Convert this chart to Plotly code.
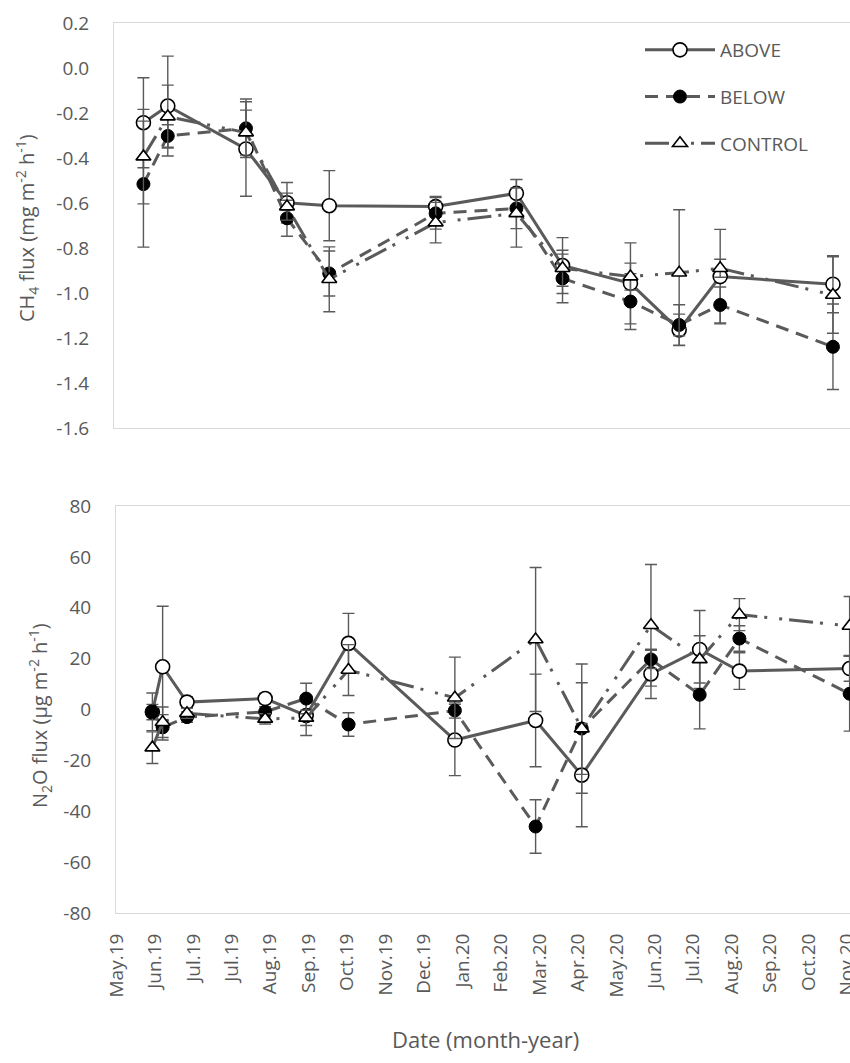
import plotly.graph_objects as go

# ---- CH4 flux campaign (mg m-2 h-1) ----
ch4_dates = ["2019-05-23", "2019-06-11", "2019-08-11", "2019-09-12", "2019-10-15", "2020-01-06",
             "2020-03-09", "2020-04-14", "2020-06-06", "2020-07-14", "2020-08-15", "2020-11-11"]
ch4_above = [-0.243, -0.169, -0.360, -0.599, -0.612, -0.616, -0.557, -0.878, -0.957, -1.164, -0.927, -0.961]
ch4_above_se = [0.20, 0.222, 0.21, 0.09, 0.156, 0.045, 0.062, 0.124, 0.18, 0.07, 0.21, 0.127]
ch4_below = [-0.516, -0.302, -0.268, -0.668, -0.913, -0.646, -0.624, -0.935, -1.038, -1.142, -1.053, -1.239]
ch4_below_se = [0.28, 0.05, 0.13, 0.08, 0.10, 0.07, 0.09, 0.108, 0.124, 0.09, 0.08, 0.19]
ch4_control = [-0.394, -0.216, -0.287, -0.616, -0.939, -0.687, -0.646, -0.890, -0.927, -0.910, -0.890, -1.009]
ch4_control_se = [0.21, 0.14, 0.10, 0.06, 0.144, 0.09, 0.15, 0.08, 0.06, 0.28, 0.04, 0.17]

# ---- N2O flux campaign (ug m-2 h-1) ----
n2o_dates = ["2019-05-30", "2019-06-07", "2019-06-26", "2019-08-26", "2019-09-27", "2019-10-30",
             "2020-01-21", "2020-03-24", "2020-04-29", "2020-06-22", "2020-07-30", "2020-08-30", "2020-11-24"]
n2o_above = [-1.0, 16.8, 2.9, 4.3, -2.4, 26.0, -12.0, -4.3, -25.8, 14.0, 23.6, 15.1, 16.1]
n2o_above_se = [3.0, 23.8, 2.0, 2.0, 7.8, 11.8, 14.0, 18.2, 20.3, 9.7, 15.3, 7.2, 5.0]
n2o_below = [-0.9, -7.0, -3.0, -0.9, 4.3, -5.9, -0.4, -46.0, -7.5, 19.7, 5.8, 27.9, 6.2]
n2o_below_se = [7.4, 5.0, 2.0, 2.0, 6.0, 4.6, 3.0, 10.5, 18.0, 3.6, 13.4, 5.0, 14.7]
n2o_control = [-15.0, -5.0, -1.5, -3.7, -3.3, 15.5, 4.6, 27.5, -7.5, 33.1, 19.7, 37.3, 32.8]
n2o_control_se = [6.2, 6.0, 2.0, 2.0, 3.0, 10.0, 16.0, 28.3, 25.4, 23.9, 9.3, 6.3, 11.6]

# ---- axis labels ----
x_tick_dates = ["2019-05-02", "2019-06-01", "2019-07-01", "2019-07-31", "2019-08-30", "2019-09-29",
                "2019-10-29", "2019-11-28", "2019-12-28", "2020-01-27", "2020-02-26", "2020-03-27",
                "2020-04-26", "2020-05-26", "2020-06-25", "2020-07-25", "2020-08-24", "2020-09-23",
                "2020-10-23", "2020-11-22"]
x_tick_labels = ["May.19", "Jun.19", "Jul.19", "Jul.19", "Aug.19", "Sep.19", "Oct.19", "Nov.19",
                 "Dec.19", "Jan.20", "Feb.20", "Mar.20", "Apr.20", "May.20", "Jun.20", "Jul.20",
                 "Aug.20", "Sep.20", "Oct.20", "Nov.20"]
ch4_ticks = [0.2, 0.0, -0.2, -0.4, -0.6, -0.8, -1.0, -1.2, -1.4, -1.6]
ch4_tick_labels = ["0.2", "0.0", "-0.2", "-0.4", "-0.6", "-0.8", "-1.0", "-1.2", "-1.4", "-1.6"]
n2o_ticks = [80, 60, 40, 20, 0, -20, -40, -60, -80]
n2o_tick_labels = ["80", "60", "40", "20", "0", "-20", "-40", "-60", "-80"]

LINE = "#5a5a5a"
TEXT = "#595959"
FRAME = "#d9d9d9"
FONT = "Open Sans"

styles = {
    "ABOVE": dict(dash="solid", marker=dict(symbol="circle", size=14, color="white",
                                            line=dict(color="black", width=1.6))),
    "BELOW": dict(dash="13px,8px", marker=dict(symbol="circle", size=13, color="black",
                                              line=dict(color="black", width=1))),
    "CONTROL": dict(dash="24px,7px,3px,12px,3px,7px",
                    marker=dict(symbol="triangle-up", size=13, color="white",
                                line=dict(color="black", width=1.6))),
}

fig = go.Figure()


def add_series(name, x, y, se, xaxis, yaxis, show):
    st = styles[name]
    fig.add_trace(go.Scatter(
        x=x, y=y, name=name, mode="lines+markers",
        line=dict(color=LINE, width=3, dash=st["dash"]),
        marker=st["marker"],
        error_y=dict(type="data", array=se, visible=True, color=LINE, thickness=1.4, width=6),
        xaxis=xaxis, yaxis=yaxis, showlegend=show, legendgroup=name,
    ))


add_series("ABOVE", ch4_dates, ch4_above, ch4_above_se, "x", "y", True)
add_series("BELOW", ch4_dates, ch4_below, ch4_below_se, "x", "y", True)
add_series("CONTROL", ch4_dates, ch4_control, ch4_control_se, "x", "y", True)
add_series("ABOVE", n2o_dates, n2o_above, n2o_above_se, "x2", "y2", False)
add_series("BELOW", n2o_dates, n2o_below, n2o_below_se, "x2", "y2", False)
add_series("CONTROL", n2o_dates, n2o_control, n2o_control_se, "x2", "y2", False)

W, H = 850, 1063


def py(px):
    return 1 - px / H


frame = dict(showline=True, mirror=True, linecolor=FRAME, linewidth=1, showgrid=False,
             zeroline=False, automargin=False)
tickfont = dict(family=FONT, size=19, color=TEXT)

fig.update_layout(
    width=W, height=H,
    margin=dict(l=0, r=0, t=0, b=0, autoexpand=False),
    paper_bgcolor="white", plot_bgcolor="white",
    font=dict(family=FONT, color=TEXT),
    xaxis=dict(domain=[114 / W, 1], type="date", range=["2019-04-30 01:00", "2020-11-24 07:00"],
               showticklabels=False, ticks="", anchor="y", **frame),
    yaxis=dict(domain=[py(428), py(23)], range=[-1.6, 0.2], tickvals=ch4_ticks, ticktext=ch4_tick_labels,
               ticks="outside", ticklen=20, tickcolor="rgba(0,0,0,0)", tickfont=tickfont, anchor="x", **frame),
    xaxis2=dict(domain=[116 / W, 1], type="date", range=["2019-05-01 14:40", "2020-11-24 07:00"],
                tickvals=x_tick_dates, ticktext=x_tick_labels, tickangle=-90, ticklabeloverflow="allow",
                ticks="outside", ticklen=12, tickcolor="rgba(0,0,0,0)", tickfont=tickfont, anchor="y2", **frame),
    yaxis2=dict(domain=[py(913), py(506)], range=[-80, 80], tickvals=n2o_ticks, ticktext=n2o_tick_labels,
                ticks="outside", ticklen=20, tickcolor="rgba(0,0,0,0)", tickfont=tickfont, anchor="x2", **frame),
    legend=dict(x=640 / W, y=py(31), xanchor="left", yanchor="top", bgcolor="rgba(0,0,0,0)",
                font=dict(family=FONT, size=19, color=TEXT), itemwidth=70, tracegroupgap=19),
    annotations=[
        dict(text="CH<sub>4</sub> flux (mg m<sup>-2</sup> h<sup>-1</sup>)", x=27 / W, y=py(228),
             xref="paper", yref="paper", xanchor="center", yanchor="middle", textangle=-90,
             showarrow=False, font=dict(family=FONT, size=20, color=TEXT)),
        dict(text="N<sub>2</sub>O flux (µg m<sup>-2</sup> h<sup>-1</sup>)", x=40 / W, y=py(716),
             xref="paper", yref="paper", xanchor="center", yanchor="middle", textangle=-90,
             showarrow=False, font=dict(family=FONT, size=20, color=TEXT)),
        dict(text="Date (month-year)", x=485 / W, y=py(1039), xref="paper", yref="paper",
             xanchor="center", yanchor="middle",
             showarrow=False, font=dict(family=FONT, size=22, color=TEXT)),
    ],
)

fig.write_html("out.html")
